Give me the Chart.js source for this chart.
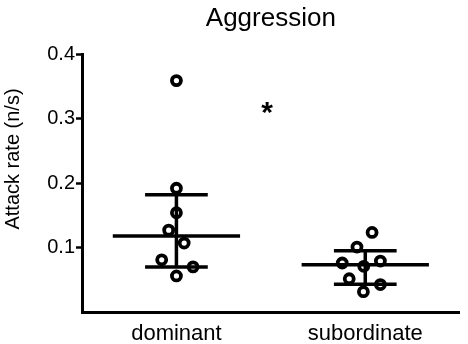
<!DOCTYPE html>
<html>
<head>
<meta charset="utf-8">
<script src="https://cdn.jsdelivr.net/npm/chart.js@4.4.1/dist/chart.umd.min.js"></script>
<style>
  html, body { margin: 0; padding: 0; background: #fff; }
  #wrap { width: 468px; height: 344px; }
</style>
</head>
<body>
<div id="wrap"><canvas id="mycanvas" width="468" height="344"></canvas></div>
<script>
// groups on the x axis
var groups = ['dominant', 'subordinate'];

// attack rate of each animal (n/s)
var dominant = [0.359, 0.192, 0.154, 0.127, 0.107, 0.081, 0.070, 0.056];
var subordinate = [0.1235, 0.1008, 0.076, 0.0709, 0.079, 0.0516, 0.0426, 0.0315];

// horizontal scatter of the dots inside each column (category units)
var dominantJitter = [0, 0, 0, -0.041, 0.041, -0.078, 0.088, 0];
var subordinateJitter = [0.036, -0.044, -0.122, -0.008, 0.080, -0.085, 0.080, -0.010];

// median and interquartile range per group
var medians = [0.118, 0.0735];
var q1 = [0.070, 0.043];
var q3 = [0.182, 0.095];

var yTicks = [0.1, 0.2, 0.3, 0.4];

// significance mark between the groups
var sigX = 0.48, sigY = 0.316, sigText = '*';

var FONT = "'Liberation Sans', Arial, Helvetica, sans-serif";
var medianHalf = 0.337, barHalf = 0.166;

function dots(vals, jit, g) {
	var out = [];
	for (var i in vals) {
		out.push({x: g + jit[i], y: vals[i]});
	}
	return out;
}

function seg(a, b) {
	return {
		type: 'scatter',
		data: [a, b],
		showLine: true,
		borderColor: '#000',
		borderWidth: 3.5,
		pointRadius: 0,
		fill: false,
		order: 0
	};
}

var datasets = [];
var allVals = [dominant, subordinate];
var allJit = [dominantJitter, subordinateJitter];

for (var g = 0; g < groups.length; g++) {
	datasets.push({
		type: 'scatter',
		label: groups[g],
		data: dots(allVals[g], allJit[g], g),
		pointRadius: 4.5,
		pointBorderWidth: 3.8,
		pointBackgroundColor: '#fff',
		pointBorderColor: '#000',
		order: 1
	});
	datasets.push(seg({x: g - medianHalf, y: medians[g]}, {x: g + medianHalf, y: medians[g]}));
	datasets.push(seg({x: g - barHalf, y: q1[g]}, {x: g + barHalf, y: q1[g]}));
	datasets.push(seg({x: g - barHalf, y: q3[g]}, {x: g + barHalf, y: q3[g]}));
	datasets.push(seg({x: g, y: q1[g]}, {x: g, y: q3[g]}));
}

// asterisk and the y axis caption (the caption sits a bit above the axis middle)
var textPlugin = {
	id: 'texts',
	afterDraw: function(chart) {
		var ctx = chart.ctx;
		var px = chart.scales.x.getPixelForValue(sigX);
		var py = chart.scales.y.getPixelForValue(sigY);
		ctx.save();
		ctx.font = 'bold 30px ' + FONT;
		ctx.fillStyle = '#000';
		ctx.textAlign = 'center';
		ctx.textBaseline = 'alphabetic';
		var m = ctx.measureText(sigText);
		var mid = (m.actualBoundingBoxAscent - m.actualBoundingBoxDescent) / 2;
		ctx.fillText(sigText, px, py + mid);

		ctx.translate(13, 159);
		ctx.rotate(-Math.PI / 2);
		ctx.font = '20px ' + FONT;
		ctx.textBaseline = 'middle';
		ctx.fillText('Attack rate (n/s)', 0, 0);
		ctx.restore();
	}
};

var ctx = document.getElementById('mycanvas');

var chart = new Chart(ctx, {
	type: 'scatter',
	data: { datasets: datasets },
	plugins: [textPlugin],
	options: {
		responsive: false,
		animation: false,
		layout: { padding: 0 },
		plugins: {
			legend: { display: false },
			tooltip: { enabled: false },
			title: {
				display: true,
				text: 'Aggression',
				fullSize: false,
				color: '#000',
				font: { family: FONT, size: 26, weight: 'normal' },
				padding: { top: 3, bottom: 20 }
			}
		},
		scales: {
			x: {
				type: 'linear',
				min: -0.5,
				max: 1.5,
				afterBuildTicks: function(scale) {
					scale.ticks = groups.map(function(n, i) { return {value: i}; });
				},
				afterFit: function(scale) { scale.height = 32; },
				ticks: {
					color: '#000',
					font: { family: FONT, size: 22 },
					padding: 1,
					callback: function(v) { return groups[v]; }
				},
				grid: { display: false },
				border: { display: true, color: '#000', width: 3 }
			},
			y: {
				min: 0,
				max: 0.4,
				afterBuildTicks: function(scale) {
					scale.ticks = yTicks.map(function(v) { return {value: v}; });
				},
				afterFit: function(scale) { scale.width = 82; },
				ticks: {
					color: '#000',
					font: { family: FONT, size: 20 },
					padding: 1,
					callback: function(v) { return v.toFixed(1); }
				},
				grid: {
					display: true,
					drawOnChartArea: false,
					drawTicks: true,
					tickLength: 6,
					tickWidth: 2.5,
					tickColor: '#000'
				},
				border: { display: true, color: '#000', width: 3 }
			}
		}
	}
});
</script>
</body>
</html>
